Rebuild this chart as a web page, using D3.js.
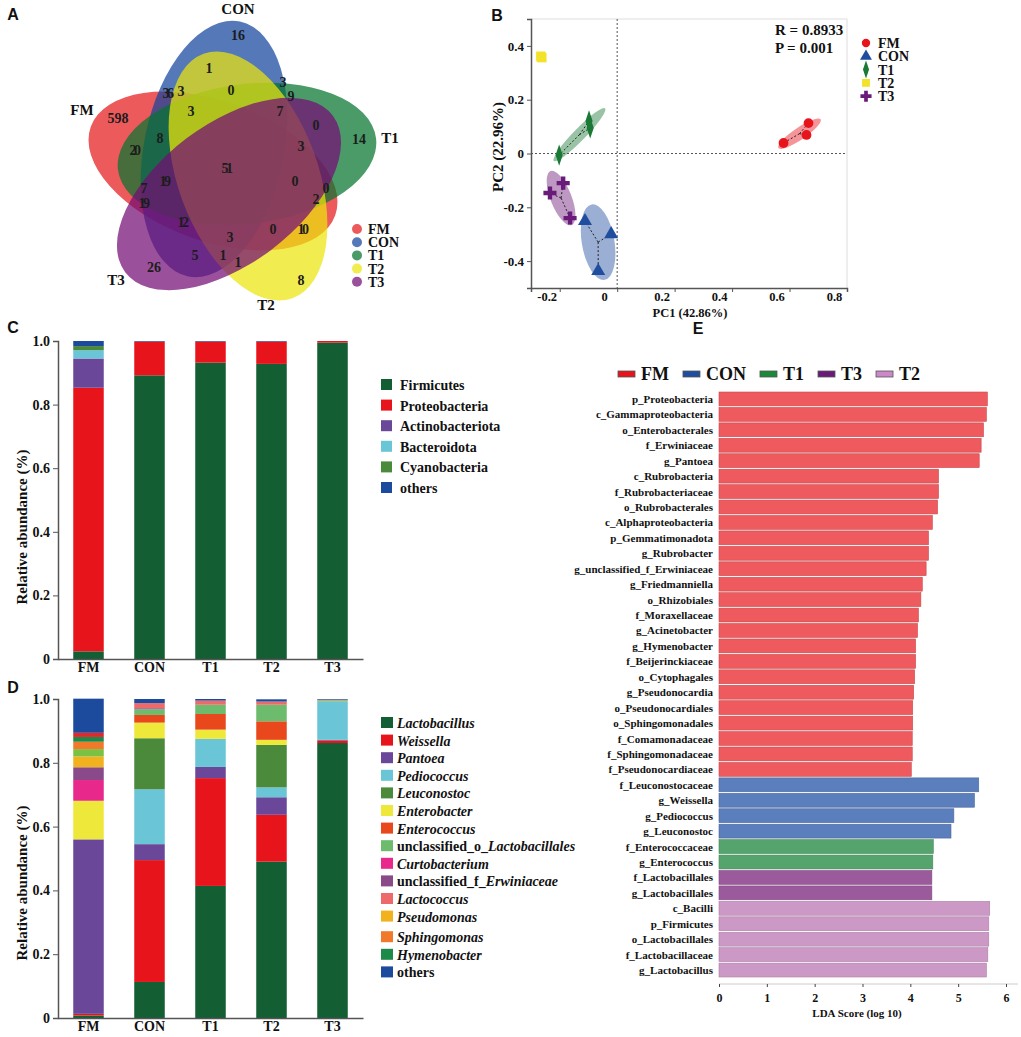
<!DOCTYPE html>
<html>
<head>
<meta charset="utf-8">
<script src="https://cdn.jsdelivr.net/npm/d3@7"></script>
<style>
  body { margin: 0; background: #fff; }
  svg { display: block; }
  text { font-family: "Liberation Serif", "Times New Roman", serif; font-weight: bold; fill: #111; }
  .plabel { font-family: "Liberation Sans", Arial, sans-serif; font-size: 16px; }
</style>
</head>
<body>
<div id="chart"></div>
<script>
// ---------- data ----------
const groups = ["FM", "CON", "T1", "T2", "T3"];

// A: Venn region counts
const vennCounts = ["16", "1", "36", "3", "0", "3", "598", "20", "8", "51", "19", "7", "19", "12",
  "3", "5", "1", "1", "26", "3", "9", "7", "0", "14", "3", "0", "0", "2", "0", "10", "8"];

// B: PCoA coordinates [PC1, PC2]
const pcoaFM  = [[0.579, 0.039], [0.659, 0.069], [0.666, 0.113]];
const pcoaCON = [[-0.112, -0.251], [-0.021, -0.300], [-0.066, -0.437]];
const pcoaT1  = [[-0.202, -0.006], [-0.098, 0.121], [-0.094, 0.095]];
const pcoaT2  = [[-0.265, 0.359], [-0.262, 0.356], [-0.266, 0.362]];
const pcoaT3  = [[-0.188, -0.110], [-0.234, -0.147], [-0.164, -0.240]];
const pcoaStats = ["R = 0.8933", "P = 0.001"];

// C: phylum level relative abundance, per group FM, CON, T1, T2, T3
const phyla = ["Firmicutes", "Proteobacteria", "Actinobacteriota", "Bacteroidota", "Cyanobacteria", "others"];
const firmicutes       = [0.024, 0.892, 0.932, 0.928, 0.995];
const proteobacteria   = [0.829, 0.106, 0.066, 0.070, 0.005];
const actinobacteriota = [0.092, 0, 0, 0, 0];
const bacteroidota     = [0.026, 0, 0, 0, 0];
const cyanobacteria    = [0.013, 0, 0, 0, 0];
const phylumOthers     = [0.016, 0.002, 0.002, 0.002, 0];

// D: genus level relative abundance
const genera = ["Lactobacillus", "Weissella", "Pantoea", "Pediococcus", "Leuconostoc", "Enterobacter",
  "Enterococcus", "unclassified_o_Lactobacillales", "Curtobacterium", "unclassified_f_Erwiniaceae",
  "Lactococcus", "Pseudomonas", "unlisted_a", "Sphingomonas", "Hymenobacter", "unlisted_b", "others"];
const lactobacillus  = [0.008, 0.113, 0.414, 0.490, 0.862];
const weissella      = [0.005, 0.382, 0.338, 0.147, 0.008];
const pantoea        = [0.547, 0.050, 0.035, 0.055, 0.002];
const pediococcus    = [0, 0.172, 0.088, 0.031, 0.120];
const leuconostoc    = [0, 0.160, 0, 0.133, 0];
const enterobacter   = [0.121, 0.049, 0.029, 0.016, 0];
const enterococcus   = [0, 0.024, 0.049, 0.058, 0];
const unclLactobac   = [0, 0.018, 0.029, 0.052, 0.004];
const curtobacterium = [0.065, 0, 0, 0, 0];
const unclErwin      = [0.040, 0.003, 0, 0, 0];
const lactococcus    = [0, 0.016, 0.013, 0.010, 0.002];
const pseudomonas    = [0.034, 0, 0, 0, 0];
const unlistedA      = [0.023, 0, 0, 0, 0];
const sphingomonas   = [0.023, 0, 0, 0, 0];
const hymenobacter   = [0.015, 0, 0, 0, 0];
const unlistedB      = [0.013, 0, 0, 0, 0];
const genusOthers    = [0.107, 0.013, 0.005, 0.007, 0.002];

// E: LEfSe LDA scores
const ldaTaxa = ["p_Proteobacteria", "c_Gammaproteobacteria", "o_Enterobacterales", "f_Erwiniaceae", "g_Pantoea",
  "c_Rubrobacteria", "f_Rubrobacteriaceae", "o_Rubrobacterales", "c_Alphaproteobacteria", "p_Gemmatimonadota",
  "g_Rubrobacter", "g_unclassified_f_Erwiniaceae", "g_Friedmanniella", "o_Rhizobiales", "f_Moraxellaceae",
  "g_Acinetobacter", "g_Hymenobacter", "f_Beijerinckiaceae", "o_Cytophagales", "g_Pseudonocardia",
  "o_Pseudonocardiales", "o_Sphingomonadales", "f_Comamonadaceae", "f_Sphingomonadaceae", "f_Pseudonocardiaceae",
  "f_Leuconostocaceae", "g_Weissella", "g_Pediococcus", "g_Leuconostoc",
  "f_Enterococcaceae", "g_Enterococcus", "f_Lactobacillales", "g_Lactobacillales",
  "c_Bacilli", "p_Firmicutes", "o_Lactobacillales", "f_Lactobacillaceae", "g_Lactobacillus"];
const ldaScores = [5.61, 5.59, 5.53, 5.48, 5.44, 4.59, 4.59, 4.57, 4.46, 4.38, 4.38, 4.33, 4.25, 4.22, 4.17,
  4.15, 4.11, 4.11, 4.09, 4.07, 4.05, 4.05, 4.04, 4.04, 4.02,
  5.43, 5.34, 4.91, 4.85, 4.48, 4.47, 4.45, 4.45,
  5.66, 5.64, 5.64, 5.62, 5.59];
const ldaGroup = [].concat(Array(25).fill("FM"), Array(4).fill("CON"), Array(2).fill("T1"),
  Array(2).fill("T3"), Array(5).fill("T2"));
const ldaLegend = ["FM", "CON", "T1", "T3", "T2"];

// ---------- styles / layout ----------
const vennFill = { FM: "#e41a1c", CON: "#13449e", T1: "#06752f", T2: "#ebe50c", T3: "#750c75" };
const vennShapes = [ // geometry of the five petals
  { set: "FM",  cx: 213, cy: 171, rot: 20 },
  { set: "CON", cx: 214, cy: 149, rot: 101.5 },
  { set: "T1",  cx: 247, cy: 154, rot: 173 },
  { set: "T2",  cx: 248, cy: 176, rot: 70 },
  { set: "T3",  cx: 229, cy: 194, rot: 143 }
];
const vennLabelPos = [[238, 35], [209, 68], [167, 93], [181, 91], [231, 90], [191, 111], [118, 118], [134, 150],
  [160, 138], [226, 168], [164, 181], [144, 188], [143, 203], [182, 222], [230, 237], [195, 255], [223, 255],
  [238, 262], [154, 267], [283, 82], [291, 96], [280, 111], [316, 125], [359, 139], [301, 146], [295, 181],
  [326, 188], [316, 199], [273, 229], [302, 229], [301, 280]];
const vennSetLabelPos = { FM: [82, 115], CON: [238, 14], T1: [390, 143], T2: [266, 310], T3: [116, 285] };

const pcoaColor = { FM: "#e8141c", CON: "#1f4e9e", T1: "#1a7a35", T2: "#f2e22a", T3: "#6a1b7a" };
const phylaColors = ["#135e32", "#e8141c", "#6a4799", "#6ac6d6", "#4a8a3a", "#1c4a9c"];
const generaColors = ["#135e32", "#e8141c", "#6a4799", "#6ac6d6", "#4a8a3a", "#eee83a", "#e8481c", "#6dbb6d",
  "#e8288a", "#8a4a8a", "#ee6a6a", "#f2b21e", "#7cc242", "#f07a2a", "#1e8a4a", "#e8262a", "#1c4a9c"];
const ldaFill = { FM: "#ee5a5e", CON: "#5b7ebc", T1: "#55a46e", T3: "#9b5a9b", T2: "#cc99c6" };
const ldaSwatch = { FM: "#e8141c", CON: "#1f4e9e", T1: "#1a8a3a", T3: "#6a1b7a", T2: "#cc88c8" };

const svg = d3.select("#chart").append("svg").attr("width", 1021).attr("height", 1037);

[["A", 13, 20], ["B", 497, 21], ["C", 13, 333], ["D", 13, 693], ["E", 698, 334]].forEach(([t, x, y]) =>
  svg.append("text").attr("class", "plabel").attr("x", x).attr("y", y).attr("text-anchor", "middle").text(t));

// ---------- A: Venn ----------
const venn = svg.append("g");
venn.selectAll("ellipse").data(vennShapes).enter().append("ellipse")
  .attr("cx", d => d.cx).attr("cy", d => d.cy).attr("rx", 130).attr("ry", 70)
  .attr("transform", d => `rotate(${d.rot},${d.cx},${d.cy})`)
  .attr("fill", d => vennFill[d.set]).attr("fill-opacity", 0.72);

venn.selectAll(".vcount").data(vennCounts).enter().append("text")
  .attr("class", "vcount")
  .attr("x", (d, i) => vennLabelPos[i][0]).attr("y", (d, i) => vennLabelPos[i][1] + 5)
  .attr("text-anchor", "middle").attr("font-size", 14).style("fill", "#1c1c1c")
  .attr("letter-spacing", d => (d.length === 2 && d !== "16" && d !== "14" && d !== "26") ? -2.5 : 0)
  .text(d => d);

groups.forEach(g => {
  venn.append("text").attr("x", vennSetLabelPos[g][0]).attr("y", vennSetLabelPos[g][1])
    .attr("text-anchor", "middle").attr("font-size", 15).text(g);
});
groups.forEach((g, i) => {
  const y = 229 + i * 13.2;
  venn.append("circle").attr("cx", 357).attr("cy", y).attr("r", 5)
    .attr("fill", vennFill[g]).attr("fill-opacity", 0.72);
  venn.append("text").attr("x", 368).attr("y", y + 5).attr("font-size", 14).text(g);
});

// ---------- B: PCoA ----------
const pcoaData = { FM: pcoaFM, CON: pcoaCON, T1: pcoaT1, T2: pcoaT2, T3: pcoaT3 };
const bx = d3.scaleLinear().domain([-0.3, 0.8]).range([531, 847]);
const by = d3.scaleLinear().domain([-0.5, 0.5]).range([288, 19]);
const pB = svg.append("g");

pB.append("line").attr("x1", bx(-0.3)).attr("x2", bx(0.8)).attr("y1", by(0.5)).attr("y2", by(0.5)).attr("stroke", "#ddd");
pB.append("line").attr("x1", bx(0.8)).attr("x2", bx(0.8)).attr("y1", by(0.5)).attr("y2", by(-0.5)).attr("stroke", "#ddd");
pB.append("line").attr("x1", bx(0)).attr("x2", bx(0)).attr("y1", by(0.5)).attr("y2", by(-0.5))
  .attr("stroke", "#555").attr("stroke-dasharray", "2,2");
pB.append("line").attr("x1", bx(-0.3)).attr("x2", bx(0.8)).attr("y1", by(0)).attr("y2", by(0))
  .attr("stroke", "#555").attr("stroke-dasharray", "2,2");

const fmtTick = d => d === 0 ? "0" : d.toFixed(1);
const bxAxis = pB.append("g").attr("transform", `translate(0,${by(-0.5)})`)
  .call(d3.axisBottom(bx).tickValues([-0.2, 0, 0.2, 0.4, 0.6, 0.8]).tickSize(4).tickPadding(0).tickFormat(fmtTick));
bxAxis.selectAll("text").attr("dx", -13).attr("font-size", 12.5);
const byAxis = pB.append("g").attr("transform", `translate(${bx(-0.3)},0)`)
  .call(d3.axisLeft(by).tickValues([-0.4, -0.2, 0, 0.2, 0.4]).tickSize(4).tickFormat(fmtTick));
byAxis.selectAll("text").attr("font-size", 13);
[bxAxis, byAxis].forEach(a => {
  a.select(".domain").attr("stroke", "#555").attr("stroke-width", 1.5);
  a.selectAll(".tick line").attr("stroke", "#555");
  a.selectAll("text").style("fill", "#111").style("font-family", "Liberation Serif, serif").style("font-weight", "bold");
});

pB.append("text").attr("x", 690).attr("y", 317).attr("text-anchor", "middle").attr("font-size", 12.5).text("PC1 (42.86%)");
pB.append("text").attr("transform", "translate(503,147) rotate(-90)").attr("text-anchor", "middle")
  .attr("font-size", 15).text("PC2 (22.96%)");

// confidence ellipses from the points (pixel space)
groups.forEach(g => {
  const pts = pcoaData[g].map(p => [bx(p[0]), by(p[1])]);
  const mx = d3.mean(pts, p => p[0]), my = d3.mean(pts, p => p[1]);
  const sxx = d3.mean(pts, p => (p[0] - mx) ** 2), syy = d3.mean(pts, p => (p[1] - my) ** 2);
  const sxy = d3.mean(pts, p => (p[0] - mx) * (p[1] - my));
  const tr = (sxx + syy) / 2, det = Math.sqrt(((sxx - syy) / 2) ** 2 + sxy ** 2);
  const l1 = tr + det, l2 = Math.max(tr - det, 0);
  const ang = Math.atan2(l1 - sxx, sxy || 1e-9) * 180 / Math.PI;
  const k = 1.6;
  if (Math.sqrt(l1) > 2) {
    pB.append("ellipse").attr("cx", mx).attr("cy", my)
      .attr("rx", Math.sqrt(l1) * k + 4).attr("ry", Math.max(Math.sqrt(l2) * k, 6))
      .attr("transform", `rotate(${ang},${mx},${my})`)
      .attr("fill", pcoaColor[g]).attr("fill-opacity", 0.45);
  }
  pts.forEach(p => pB.append("line").attr("x1", mx).attr("y1", my).attr("x2", p[0]).attr("y2", p[1])
    .attr("stroke", "#222").attr("stroke-width", 1).attr("stroke-dasharray", "2,2"));
});

const symbolFor = {
  FM: d3.symbol(d3.symbolCircle, 75),
  CON: d3.symbol(d3.symbolTriangle, 85),
  T1: d3.symbol(d3.symbolDiamond, 90),
  T2: d3.symbol(d3.symbolSquare, 85),
  T3: d3.symbol(d3.symbolCross, 95)
};
const symScale = { FM: "", CON: "", T1: " scale(0.7,1.2)", T2: "", T3: "" };
groups.forEach(g => {
  pB.selectAll(null).data(pcoaData[g]).enter().append("path")
    .attr("d", symbolFor[g]())
    .attr("transform", d => `translate(${bx(d[0])},${by(d[1])})${symScale[g]}`)
    .attr("fill", pcoaColor[g]);
});
groups.forEach((g, i) => {
  const y = 43 + i * 13.3;
  pB.append("path").attr("d", symbolFor[g]()).attr("transform", `translate(866,${y}) scale(0.85)${symScale[g]}`)
    .attr("fill", pcoaColor[g]);
  pB.append("text").attr("x", 878).attr("y", y + 5).attr("font-size", 14).text(g);
});
pcoaStats.forEach((t, i) => pB.append("text").attr("x", 775).attr("y", 35 + i * 18).attr("font-size", 15).text(t));

// ---------- C & D: stacked bars ----------
function stackedPanel(series, names, colors, y0, y1, titleY) {
  const g = svg.append("g");
  const x = d3.scaleBand().domain(groups).range([58, 363]).paddingInner(0.5).paddingOuter(0.25);
  const y = d3.scaleLinear().domain([0, 1]).range([y1, y0]);
  const rows = groups.map((grp, i) => {
    const r = { group: grp };
    names.forEach((n, j) => r[n] = series[j][i]);
    return r;
  });
  const stacked = d3.stack().keys(names)(rows);
  g.selectAll(".layer").data(stacked).enter().append("g")
    .attr("fill", (d, i) => colors[i])
    .selectAll("rect").data(d => d).enter().append("rect")
    .attr("x", d => x(d.data.group)).attr("width", x.bandwidth())
    .attr("y", d => y(d[1])).attr("height", d => Math.max(0, y(d[0]) - y(d[1])));

  const ya = g.append("g").attr("transform", "translate(58,0)")
    .call(d3.axisLeft(y).tickValues([0, 0.2, 0.4, 0.6, 0.8, 1.0]).tickSize(5).tickFormat(fmtTick));
  const xa = g.append("g").attr("transform", `translate(0,${y1})`)
    .call(d3.axisBottom(x).tickSize(0).tickPadding(3));
  [ya, xa].forEach(a => {
    a.select(".domain").attr("stroke", "#555").attr("stroke-width", 1.5);
    a.selectAll(".tick line").attr("stroke", "#555");
    a.selectAll("text").attr("font-size", 14).style("fill", "#111")
      .style("font-family", "Liberation Serif, serif").style("font-weight", "bold");
  });
  g.append("text").attr("transform", `translate(27,${titleY}) rotate(-90)`).attr("text-anchor", "middle")
    .attr("font-size", 15).text("Relative abundance (%)");
  return g;
}

stackedPanel([firmicutes, proteobacteria, actinobacteriota, bacteroidota, cyanobacteria, phylumOthers],
  phyla, phylaColors, 341, 659, 527);

stackedPanel([lactobacillus, weissella, pantoea, pediococcus, leuconostoc, enterobacter, enterococcus,
  unclLactobac, curtobacterium, unclErwin, lactococcus, pseudomonas, unlistedA, sphingomonas, hymenobacter,
  unlistedB, genusOthers], genera, generaColors, 699, 1018, 883);

// C legend
phyla.forEach((p, i) => {
  const y = 385 + i * 20.6;
  svg.append("rect").attr("x", 381).attr("y", y - 6).attr("width", 11).attr("height", 11).attr("fill", phylaColors[i]);
  svg.append("text").attr("x", 400).attr("y", y + 5).attr("font-size", 14).text(p);
});

// D legend (genus names in italics)
const legendGenera = genera.filter(n => !n.startsWith("unlisted"));
legendGenera.forEach((n, i) => {
  const y = 723 + i * 17.6 + (i >= 12 ? 3 : 0);
  svg.append("rect").attr("x", 381).attr("y", y - 6).attr("width", 12).attr("height", 11)
    .attr("fill", generaColors[genera.indexOf(n)]);
  const t = svg.append("text").attr("x", 397).attr("y", y + 5).attr("font-size", 14);
  const m = n.match(/^(unclassified_[a-z]_)(.*)$/);
  if (m) {
    t.append("tspan").text(m[1]);
    t.append("tspan").attr("font-style", "italic").text(m[2]);
  } else if (n === "others") {
    t.text(n);
  } else {
    t.attr("font-style", "italic").text(n);
  }
});

// ---------- E: LDA ----------
const pE = svg.append("g");
const ex = d3.scaleLinear().domain([0, 6]).range([719, 1006]);
const ey = d3.scaleBand().domain(ldaTaxa).range([392, 977]).paddingInner(0.1);

pE.selectAll("rect.bar").data(ldaTaxa).enter().append("rect").attr("class", "bar")
  .attr("x", ex(0)).attr("y", d => ey(d))
  .attr("width", (d, i) => ex(ldaScores[i]) - ex(0)).attr("height", ey.bandwidth())
  .attr("fill", (d, i) => ldaFill[ldaGroup[i]])
  .attr("stroke", (d, i) => d3.color(ldaFill[ldaGroup[i]]).darker(0.5)).attr("stroke-width", 0.6);

pE.selectAll("text.tax").data(ldaTaxa).enter().append("text").attr("class", "tax")
  .attr("x", 713).attr("y", d => ey(d) + ey.bandwidth() / 2 + 4)
  .attr("text-anchor", "end").attr("font-size", 11).text(d => d);

const ea = pE.append("g").attr("transform", "translate(0,984)")
  .call(d3.axisBottom(ex).ticks(6).tickSize(3).tickPadding(6));
ea.select(".domain").attr("stroke", "#ccc").attr("d", "M719,0H1018");
ea.selectAll(".tick line").attr("stroke", "#444");
ea.selectAll("text").attr("font-size", 12).style("fill", "#111")
  .style("font-family", "Liberation Serif, serif").style("font-weight", "bold");
pE.append("text").attr("x", 857).attr("y", 1017).attr("text-anchor", "middle").attr("font-size", 11)
  .text("LDA Score (log 10)");

// legend flows left to right
let lx = 618;
ldaLegend.forEach(g => {
  pE.append("rect").attr("x", lx).attr("y", 371).attr("width", 17).attr("height", 6)
    .attr("fill", ldaSwatch[g]).attr("stroke", "#555").attr("stroke-width", 0.8);
  const t = pE.append("text").attr("x", lx + 23).attr("y", 380).attr("font-size", 18).text(g);
  lx += 23 + t.node().getComputedTextLength() + 14;
});
</script>
</body>
</html>
